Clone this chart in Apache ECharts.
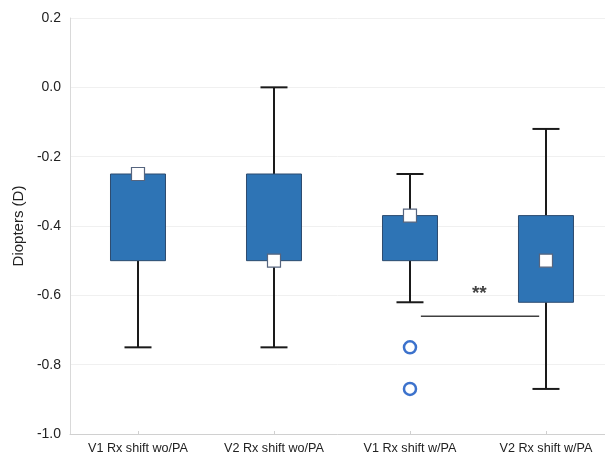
<!DOCTYPE html>
<html><head><meta charset="utf-8">
<script src="https://cdn.jsdelivr.net/npm/echarts@6/dist/echarts.min.js"></script>
<style>html,body{margin:0;padding:0;background:#fff}#c{width:605px;height:456px}</style>
</head><body><div id="c"></div>
<script>
const categories = ['V1 Rx shift wo/PA', 'V2 Rx shift wo/PA', 'V1 Rx shift w/PA', 'V2 Rx shift w/PA'];
const categoryPos = [0, 1, 2, 3];
const whiskerLow = [-0.75, -0.75, -0.62, -0.87];
const boxLow = [-0.5, -0.5, -0.5, -0.62];
const boxHigh = [-0.25, -0.25, -0.37, -0.37];
const whiskerHigh = [-0.25, 0.0, -0.25, -0.12];
const means = [-0.25, -0.5, -0.37, -0.5];
const outliers = [[2, -0.75], [2, -0.87]];
const sigLineX = [2.08, 2.95];
const sigLineY = -0.66;
const sigLabel = '**';
const sigLabelPos = [2.51, -0.595];
const xMin = -0.5, xMax = 3.434;
const yMin = -1.0, yMax = 0.2, yStep = 0.2;
const yAxisName = 'Diopters (D)';

const FONT = '"Liberation Sans", Arial, sans-serif';
const boxData = categoryPos.map((p, i) => [p, whiskerLow[i], boxLow[i], boxHigh[i], whiskerHigh[i], means[i]]);

const chart = echarts.init(document.getElementById('c'), null, {renderer: 'canvas'});
chart.setOption({
  animation: false,
  backgroundColor: '#fff',
  grid: {left: 70, top: 18, bottom: 22, right: 0, containLabel: false},
  xAxis: {
    type: 'value', min: xMin, max: xMax,
    axisLine: {show: true, onZero: false, lineStyle: {color: '#d0d0d0', width: 1}},
    axisTick: {show: true, inside: true, length: 3, customValues: categoryPos, lineStyle: {color: '#d0d0d0'}},
    axisLabel: {fontSize: 12.6, color: '#222', margin: 8, fontFamily: FONT,
      customValues: categoryPos, formatter: v => categories[Math.round(v)]},
    splitLine: {show: false}
  },
  yAxis: {
    type: 'value', min: yMin, max: yMax, interval: yStep,
    name: yAxisName, nameLocation: 'middle', nameGap: 43, nameRotate: 90,
    nameTextStyle: {fontSize: 15, color: '#222', fontFamily: FONT},
    axisLine: {show: true, onZero: false, lineStyle: {color: '#d9d9d9', width: 1}},
    axisTick: {show: false},
    axisLabel: {fontSize: 14, color: '#222', margin: 9, fontFamily: FONT, formatter: v => v.toFixed(1)},
    splitLine: {show: true, lineStyle: {color: '#f0f0f0', width: 1}}
  },
  series: [{
    type: 'custom',
    data: boxData,
    renderItem: function (params, api) {
      const x = api.value(0);
      const cx = api.coord([x, 0])[0];
      const yWL = api.coord([x, api.value(1)])[1];
      const yBL = api.coord([x, api.value(2)])[1];
      const yBH = api.coord([x, api.value(3)])[1];
      const yWH = api.coord([x, api.value(4)])[1];
      const yM = api.coord([x, api.value(5)])[1];
      const bw = 55, cw = 27, ms = 13;
      const wStyle = {stroke: '#1a1a1a', lineWidth: 2};
      const children = [];
      if (Math.abs(yWH - yBH) > 0.5) {
        children.push({type: 'line', shape: {x1: cx, y1: yBH, x2: cx, y2: yWH}, style: wStyle});
        children.push({type: 'line', shape: {x1: cx - cw / 2, y1: yWH, x2: cx + cw / 2, y2: yWH}, style: wStyle});
      }
      if (Math.abs(yWL - yBL) > 0.5) {
        children.push({type: 'line', shape: {x1: cx, y1: yBL, x2: cx, y2: yWL}, style: wStyle});
        children.push({type: 'line', shape: {x1: cx - cw / 2, y1: yWL, x2: cx + cw / 2, y2: yWL}, style: wStyle});
      }
      children.push({type: 'rect', shape: {x: cx - bw / 2, y: yBH, width: bw, height: yBL - yBH},
        style: {fill: '#2e74b5', stroke: '#2d4b6f', lineWidth: 1}});
      children.push({type: 'rect', shape: {x: cx - ms / 2, y: yM - ms / 2, width: ms, height: ms},
        style: {fill: '#ffffff', stroke: '#56657f', lineWidth: 1.2}});
      return {type: 'group', children: children};
    },
    z: 3
  }, {
    type: 'scatter',
    data: outliers,
    symbol: 'circle',
    symbolSize: 12,
    itemStyle: {color: '#ffffff', borderColor: '#0b4fbf', borderWidth: 2.5},
    z: 4
  }, {
    type: 'line',
    data: [[sigLineX[0], sigLineY], [sigLineX[1], sigLineY]],
    symbol: 'none',
    lineStyle: {color: '#404040', width: 1.5},
    z: 2
  }, {
    type: 'scatter',
    data: [sigLabelPos],
    symbolSize: 0,
    label: {show: true, position: 'inside', formatter: sigLabel, fontSize: 19, fontWeight: 'bold', color: '#111', fontFamily: FONT},
    z: 5
  }]
});
</script>
</body></html>
